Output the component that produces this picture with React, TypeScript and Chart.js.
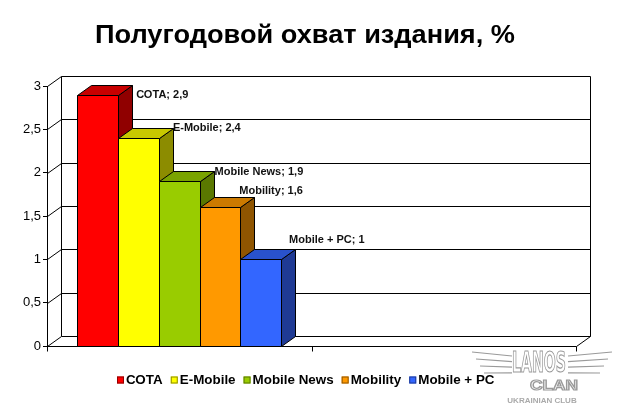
import React, { useEffect, useRef } from 'react';
import { Chart, registerables } from 'chart.js';

Chart.register(...registerables);

// Two category slots: the bars sit in the first one, the second one is empty
const categories = ['', ''];
const seriesNames = ['СОТА', 'E-Mobile', 'Mobile News', 'Mobility', 'Mobile + PC'];
const seriesValues = [2.9, 2.4, 1.9, 1.6, 1];
const yMin = 0;
const yMax = 3;
const yStep = 0.5;

const titleText = 'Полугодовой охват издания, %';

// Face colours of the 3D columns: front, top, side
const frontColors = ['#ff0000', '#ffff00', '#99cc00', '#ff9900', '#3366ff'];
const topColors = ['#c80000', '#c8c800', '#7aa300', '#cc7a00', '#2952cc'];
const sideColors = ['#900000', '#8c8c00', '#5a7800', '#8f5500', '#1f3a94'];

const DEPTH_X = 14;
const DEPTH_Y = 10;
const FONT = '"Liberation Sans", Arial, sans-serif';
// label nudges relative to the bar's back-top corner (style only)
const labelNudge = [[0, 10], [-4, 0], [-3, 1], [-19, -6], [-10, -9]];

const fmt = (v: number) => String(v).replace('.', ',');

const line = (ctx: CanvasRenderingContext2D, x1: number, y1: number, x2: number, y2: number) => {
  ctx.beginPath();
  ctx.moveTo(x1, y1);
  ctx.lineTo(x2, y2);
  ctx.stroke();
};

const poly = (ctx: CanvasRenderingContext2D, pts: number[][], fill: string) => {
  ctx.beginPath();
  ctx.moveTo(pts[0][0], pts[0][1]);
  pts.slice(1).forEach((p) => ctx.lineTo(p[0], p[1]));
  ctx.closePath();
  ctx.fillStyle = fill;
  ctx.fill();
  ctx.stroke();
};

const threeD = {
  id: 'threeD',
  beforeDatasetsDraw(chart: any) {
    const { ctx, chartArea: a, scales } = chart;
    const ys = scales.y;
    const xs = scales.x;
    const L = a.left + 0.5;
    const R = Math.round(a.right) + 0.5;
    const B = Math.round(a.bottom) + 0.5;
    ctx.save();
    ctx.strokeStyle = '#000';
    ctx.lineWidth = 1;

    // walls: grid on the back wall and diagonals on the side wall
    ys.ticks.forEach((t: any) => {
      const py = Math.round(ys.getPixelForValue(t.value)) + 0.5;
      line(ctx, L, py, L + DEPTH_X, py - DEPTH_Y);
      line(ctx, L + DEPTH_X, py - DEPTH_Y, R + DEPTH_X, py - DEPTH_Y);
    });
    const T = Math.round(a.top) + 0.5;
    line(ctx, L + DEPTH_X, T - DEPTH_Y, L + DEPTH_X, B - DEPTH_Y);
    line(ctx, R + DEPTH_X, T - DEPTH_Y, R + DEPTH_X, B - DEPTH_Y);
    // floor front edge
    line(ctx, L, B, R, B);
    line(ctx, R, B, R + DEPTH_X, B - DEPTH_Y);
    // category ticks
    for (let i = 0; i <= categories.length; i++) {
      const px = Math.round(xs.getPixelForValue(i - 0.5)) + 0.5;
      line(ctx, px, B, px, B + 5);
    }

    // columns, left to right so each one covers its neighbour's side
    chart.data.datasets.forEach((ds: any, i: number) => {
      const meta = chart.getDatasetMeta(i);
      const el = meta.data[0];
      if (!el) return;
      const p = el.getProps(['x', 'y', 'width', 'base'], true);
      const l = Math.round(p.x - p.width / 2) + 0.5;
      const r = Math.round(p.x + p.width / 2) + 0.5;
      const t = Math.round(p.y) + 0.5;
      const b = Math.round(p.base) + 0.5;
      poly(ctx, [[r, t], [r + DEPTH_X, t - DEPTH_Y], [r + DEPTH_X, b - DEPTH_Y], [r, b]], sideColors[i]);
      poly(ctx, [[l, t], [r, t], [r + DEPTH_X, t - DEPTH_Y], [l + DEPTH_X, t - DEPTH_Y]], topColors[i]);
      poly(ctx, [[l, t], [r, t], [r, b], [l, b]], ds.backgroundColor);
    });

    // value labels
    ctx.font = `bold 11px ${FONT}`;
    ctx.fillStyle = '#111';
    ctx.textBaseline = 'middle';
    ctx.textAlign = 'left';
    chart.data.datasets.forEach((ds: any, i: number) => {
      const el = chart.getDatasetMeta(i).data[0];
      if (!el) return;
      const p = el.getProps(['x', 'y', 'width'], true);
      const lx = p.x + p.width / 2 + DEPTH_X + 4 + labelNudge[i][0];
      const ly = p.y - DEPTH_Y + labelNudge[i][1];
      ctx.fillText(`${ds.label}; ${fmt(ds.data[0])}`, lx, ly);
    });
    ctx.restore();
    return false;
  },
  afterDraw(chart: any) {
    const { ctx } = chart;
    ctx.save();
    // title, stretched a little to the width of the original
    ctx.save();
    ctx.font = `bold 25px ${FONT}`;
    ctx.fillStyle = '#000';
    ctx.textAlign = 'center';
    ctx.textBaseline = 'alphabetic';
    const tw = ctx.measureText(titleText).width;
    ctx.translate(305, 43);
    ctx.scale(420 / tw, 1);
    ctx.fillText(titleText, 0, 0);
    ctx.restore();

    // legend
    ctx.font = `bold 13.4px ${FONT}`;
    ctx.textAlign = 'left';
    ctx.textBaseline = 'middle';
    const box = 7;
    const gap = 2;
    const itemGap = 8;
    const items = chart.data.datasets.map((ds: any) => ({ text: ds.label, w: ctx.measureText(ds.label).width }));
    const total = items.reduce((s: number, it: any) => s + box + gap + it.w, 0) + itemGap * (items.length - 1);
    let x = Math.round(306 - total / 2);
    const ly = 380;
    items.forEach((it: any, i: number) => {
      ctx.fillStyle = frontColors[i];
      ctx.fillRect(x, ly - 3.5, box, box);
      ctx.strokeStyle = sideColors[i];
      ctx.lineWidth = 1;
      ctx.strokeRect(x + 0.5, ly - 3, box - 1, box - 1);
      ctx.fillStyle = '#000';
      ctx.fillText(it.text, x + box + gap, ly);
      x += box + gap + it.w + itemGap;
    });

    // club watermark
    ctx.strokeStyle = '#9a9a9a';
    ctx.lineWidth = 1.2;
    ctx.fillStyle = '#ffffff';
    [[0, 0], [4, 7], [8, 14], [12, 21]].forEach(([dx, dy]) => {
      ctx.beginPath();
      ctx.moveTo(472 + dx, 352 + dy);
      ctx.lineTo(512, 356 + dy * 0.8);
      ctx.stroke();
      ctx.beginPath();
      ctx.moveTo(612 - dx, 352 + dy);
      ctx.lineTo(568, 356 + dy * 0.8);
      ctx.stroke();
    });
    ctx.save();
    ctx.font = `bold 28px "DejaVu Sans Condensed", ${FONT}`;
    const lw = ctx.measureText('LANOS').width;
    ctx.translate(512, 372);
    ctx.scale(54 / lw, 1);
    ctx.textBaseline = 'alphabetic';
    ctx.fillText('LANOS', 0, 0);
    ctx.strokeText('LANOS', 0, 0);
    ctx.restore();
    ctx.save();
    ctx.font = `bold 14px ${FONT}`;
    const cw = ctx.measureText('CLAN').width;
    ctx.translate(530, 390);
    ctx.scale(48 / cw, 1);
    ctx.textBaseline = 'alphabetic';
    ctx.fillText('CLAN', 0, 0);
    ctx.strokeText('CLAN', 0, 0);
    ctx.restore();
    ctx.font = `bold 8px ${FONT}`;
    ctx.fillStyle = '#aaaaaa';
    ctx.textAlign = 'center';
    ctx.fillText('UKRAINIAN CLUB', 542, 401);
    ctx.restore();
  },
};

const App: React.FC = () => {
  const canvasRef = useRef<HTMLCanvasElement | null>(null);

  useEffect(() => {
    document.body.style.margin = '0';
    if (!canvasRef.current) return;
    const chart = new Chart(canvasRef.current, {
      type: 'bar',
      data: {
        labels: categories,
        datasets: seriesNames.map((name, i) => ({
          label: name,
          data: [seriesValues[i], null],
          backgroundColor: frontColors[i],
          borderColor: '#000',
          borderWidth: 1,
        })),
      },
      options: {
        animation: false,
        responsive: true,
        maintainAspectRatio: false,
        layout: { padding: { top: 86, right: 44, bottom: 60, left: 0 } },
        datasets: { bar: { categoryPercentage: 0.77, barPercentage: 1 } },
        scales: {
          x: { display: false },
          y: {
            min: yMin,
            max: yMax,
            afterFit: (scale: any) => {
              scale.width = 47;
            },
            ticks: {
              stepSize: yStep,
              padding: 2,
              color: '#000',
              font: { family: FONT, size: 13 },
              callback: (v: any) => fmt(Number(v)),
            },
            grid: { drawOnChartArea: false, tickLength: 4, color: '#000' },
            border: { display: true, color: '#000', width: 1 },
          },
        },
        plugins: {
          legend: { display: false },
          title: { display: false },
          tooltip: { enabled: false },
        },
      },
      plugins: [threeD],
    });
    return () => chart.destroy();
  }, []);

  return (
    <div style={{ width: 620, height: 406, position: 'relative', background: '#fff' }}>
      <canvas ref={canvasRef} />
    </div>
  );
};

export default App;
